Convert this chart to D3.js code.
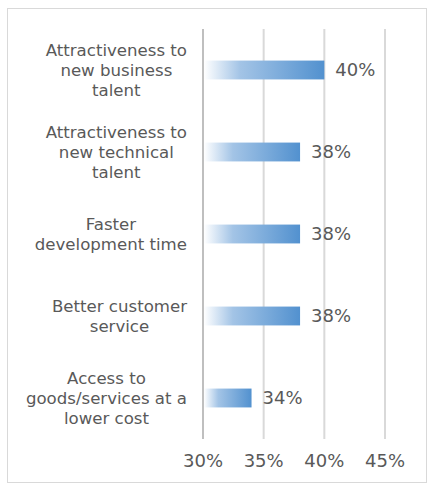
<!DOCTYPE html>
<html>
<head>
<meta charset="utf-8">
<script src="https://cdn.jsdelivr.net/npm/d3@7"></script>
<style>
  body { margin: 0; background: #fff; }
  text { font-family: "DejaVu Sans", Verdana, sans-serif; fill: #595959; }
</style>
</head>
<body>
<div id="chart"></div>
<script>
const categories = [
  "Attractiveness to|new business|talent",
  "Attractiveness to|new technical|talent",
  "Faster|development time",
  "Better customer|service",
  "Access to|goods/services at a|lower cost"
];
const values = [0.40, 0.38, 0.38, 0.38, 0.34];
const ticks = [0.30, 0.35, 0.40, 0.45];

var width = 434,
    height = 492;

const svg = d3.select("#chart")
  .append("svg")
    .attr("width", width)
    .attr("height", height);

// outer frame
svg.append("rect")
  .attr("x", 7.5).attr("y", 8.5)
  .attr("width", 419).attr("height", 474)
  .attr("fill", "#fff")
  .attr("stroke", "#d9d9d9");

const x = d3.scaleLinear().domain([0.30, 0.45]).range([203, 385]);
const y = d3.scaleBand().domain(d3.range(categories.length)).range([29, 439]).paddingInner(0.77).paddingOuter(0.385);

const grad = svg.append("defs").append("linearGradient")
  .attr("id", "barGrad")
  .attr("x1", "0%").attr("x2", "100%").attr("y1", "0%").attr("y2", "0%");
grad.append("stop").attr("offset", "0%").attr("stop-color", "#ffffff");
grad.append("stop").attr("offset", "30%").attr("stop-color", "#a3c4e6");
grad.append("stop").attr("offset", "100%").attr("stop-color", "#5291cf");

// gridlines
svg.append("g")
  .selectAll("line")
  .data(ticks)
  .join("line")
    .attr("x1", d => x(d)).attr("x2", d => x(d))
    .attr("y1", 29).attr("y2", 439)
    .attr("stroke", (d, i) => i == 0 ? "#bfbfbf" : "#d9d9d9")
    .attr("stroke-width", 2);

// bars
svg.append("g")
  .selectAll("rect")
  .data(values)
  .join("rect")
    .attr("x", x(0.30) + 1)
    .attr("y", (d, i) => y(i))
    .attr("width", d => x(d) - x(0.30) - 1)
    .attr("height", y.bandwidth())
    .attr("fill", "url(#barGrad)");

// value labels
svg.append("g")
  .selectAll("text")
  .data(values)
  .join("text")
    .attr("x", d => x(d) + 11)
    .attr("y", (d, i) => y(i) + y.bandwidth() / 2)
    .attr("dy", "0.36em")
    .attr("font-size", 18)
    .text(d => d3.format(".0%")(d));

// tick labels
svg.append("g")
  .selectAll("text")
  .data(ticks)
  .join("text")
    .attr("x", d => x(d))
    .attr("y", 461)
    .attr("dy", "0.36em")
    .attr("text-anchor", "middle")
    .attr("font-size", 18)
    .text(d => d3.format(".0%")(d));

// category labels, block right-aligned near the axis, lines centred
const lineH = 20;
const catG = svg.append("g")
  .selectAll("g")
  .data(categories)
  .join("g");

catG.each(function(d, i) {
  const g = d3.select(this);
  const lines = d.split("|");
  const cy = y(i) + y.bandwidth() / 2;
  const t = g.selectAll("text")
    .data(lines)
    .join("text")
      .attr("font-size", 16.6)
      .attr("text-anchor", "middle")
      .attr("y", (l, k) => cy + (k - (lines.length - 1) / 2) * lineH)
      .attr("dy", "0.36em")
      .text(l => l);
  let maxW = 0;
  t.each(function() { maxW = Math.max(maxW, this.getComputedTextLength()); });
  t.attr("x", 187 - maxW / 2);
});
</script>
</body>
</html>
